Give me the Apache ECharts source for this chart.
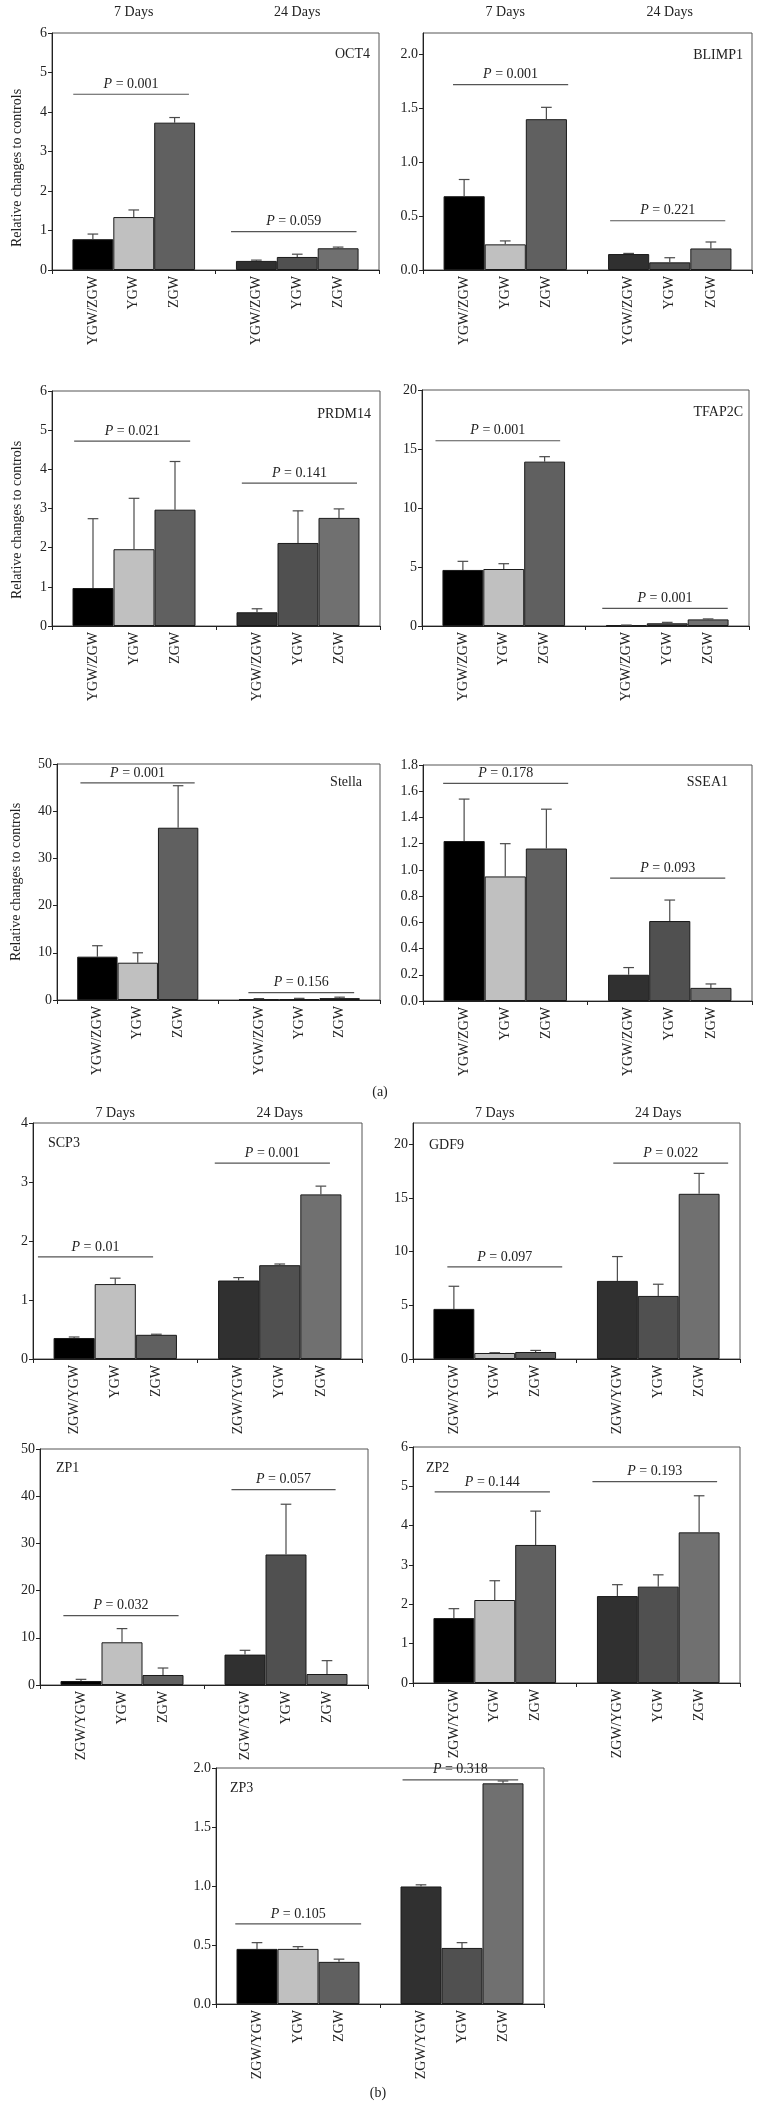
<!DOCTYPE html>
<html><head><meta charset="utf-8">
<script src="https://cdn.jsdelivr.net/npm/echarts@6/dist/echarts.min.js"></script>
<style>html,body{margin:0;padding:0;background:#fff}#c{width:760px;height:2108px}</style>
</head><body><div id="c"></div>
<script>
// ---------- DATA ----------
const dayLabels = ['7 Days', '24 Days'];
const groupsA = ['YGW/ZGW', 'YGW', 'ZGW'];
const groupsB = ['ZGW/YGW', 'YGW', 'ZGW'];
const yName = 'Relative changes to controls';

// order: 7 Days [g0,g1,g2], 24 Days [g0,g1,g2]
const oct4Mean   = [0.78, 1.34, 3.73, 0.23, 0.33, 0.55];
const oct4Sd     = [0.13, 0.18, 0.13, 0.02, 0.07, 0.03];
const blimp1Mean = [0.685, 0.238, 1.40, 0.148, 0.071, 0.20];
const blimp1Sd   = [0.155, 0.032, 0.11, 0.006, 0.043, 0.06];
const prdm14Mean = [0.97, 1.96, 2.97, 0.35, 2.12, 2.76];
const prdm14Sd   = [1.77, 1.30, 1.23, 0.09, 0.82, 0.23];
const tfap2cMean = [4.75, 4.83, 13.93, 0.06, 0.23, 0.56];
const tfap2cSd   = [0.73, 0.45, 0.42, 0.02, 0.08, 0.04];
const stellaMean = [9.18, 7.9, 36.5, 0.15, 0.2, 0.4];
const stellaSd   = [2.32, 2.1, 8.9, 0.15, 0.15, 0.2];
const ssea1Mean  = [1.22, 0.95, 1.163, 0.20, 0.61, 0.10];
const ssea1Sd    = [0.32, 0.25, 0.30, 0.055, 0.16, 0.03];
const scp3Mean   = [0.356, 1.27, 0.41, 1.33, 1.59, 2.79];
const scp3Sd     = [0.017, 0.10, 0.01, 0.05, 0.02, 0.14];
const gdf9Mean   = [4.67, 0.56, 0.65, 7.28, 5.88, 15.4];
const gdf9Sd     = [2.11, 0.03, 0.15, 2.27, 1.09, 1.9];
const zp1Mean    = [0.85, 9.05, 2.12, 6.44, 27.65, 2.33];
const zp1Sd      = [0.35, 2.9, 1.48, 0.91, 10.65, 2.83];
const zp2Mean    = [1.65, 2.11, 3.51, 2.21, 2.45, 3.83];
const zp2Sd      = [0.24, 0.49, 0.86, 0.29, 0.30, 0.93];
const zp3Mean    = [0.467, 0.467, 0.357, 0.996, 0.475, 1.87];
const zp3Sd      = [0.053, 0.019, 0.023, 0.014, 0.045, 0.02];

// P-value annotations: [p text, line y value, from slot, to slot]
const oct4P   = [['0.001', 4.45, 0.52, 3.35], ['0.059', 0.97, 4.38, 7.45]];
const blimp1P = [['0.001', 1.72, 0.73, 3.53], ['0.221', 0.457, 4.55, 7.35]];
const prdm14P = [['0.021', 4.72, 0.54, 3.37], ['0.141', 3.65, 4.63, 7.44]];
const tfap2cP = [['0.001', 15.7, 0.33, 3.38], ['0.001', 1.5, 4.41, 7.48]];
const stellaP = [['0.001', 46.0, 0.58, 3.41], ['0.156', 1.55, 4.74, 7.36]];
const ssea1P  = [['0.178', 1.66, 0.49, 3.53], ['0.093', 0.937, 4.55, 7.35]];
const scp3P   = [['0.01', 1.73, 0.12, 2.92], ['0.001', 3.32, 4.42, 7.22]];
const gdf9P   = [['0.097', 8.58, 0.84, 3.65], ['0.022', 18.26, 4.9, 7.71]];
const zp1P    = [['0.032', 14.7, 0.57, 3.38], ['0.057', 41.4, 4.67, 7.21]];
const zp2P    = [['0.144', 4.86, 0.53, 3.35], ['0.193', 5.12, 4.39, 7.44]];
const zp3P    = [['0.105', 0.679, 0.47, 3.54], ['0.318', 1.90, 4.55, 7.37]];

// ---------- STYLE / LAYOUT ----------
const FONT = '"Liberation Serif", "DejaVu Serif", serif';
const TXT = '#222';
const colors7 = ['#000000', '#c0c0c0', '#606060'];
const colors24 = ['#303030', '#505050', '#707070'];
const slots = [1, 2, 3, 5, 6, 7];

const panels = [
  {gene:'OCT4',   mean:oct4Mean,   sd:oct4Sd,   p:oct4P,   cats:groupsA, box:[52,33,379,270],   ymax:6,   yint:1,   dec:0, lab:[370,54,'right'],  yname:[17,168],  days:14},
  {gene:'BLIMP1', mean:blimp1Mean, sd:blimp1Sd, p:blimp1P, cats:groupsA, box:[423,33,752,270],  ymax:2.2, yint:0.5, dec:1, lab:[743,55,'right'],  yname:null, days:14},
  {gene:'PRDM14', mean:prdm14Mean, sd:prdm14Sd, p:prdm14P, cats:groupsA, box:[52,391,380,626],  ymax:6,   yint:1,   dec:0, lab:[371,414,'right'], yname:[17,520],  days:null},
  {gene:'TFAP2C', mean:tfap2cMean, sd:tfap2cSd, p:tfap2cP, cats:groupsA, box:[422,390,749,626], ymax:20,  yint:5,   dec:0, lab:[743,412,'right'], yname:null, days:null},
  {gene:'Stella', mean:stellaMean, sd:stellaSd, p:stellaP, cats:groupsA, box:[57,764,380,1000], ymax:50,  yint:10,  dec:0, lab:[362,782,'right'], yname:[16,882],  days:null},
  {gene:'SSEA1',  mean:ssea1Mean,  sd:ssea1Sd,  p:ssea1P,  cats:groupsA, box:[423,765,752,1001],ymax:1.8, yint:0.2, dec:1, lab:[728,782,'right'], yname:null, days:null},
  {gene:'SCP3',   mean:scp3Mean,   sd:scp3Sd,   p:scp3P,   cats:groupsB, box:[33,1123,362,1359],ymax:4,   yint:1,   dec:0, lab:[48,1143,'left'],  yname:null, days:3},
  {gene:'GDF9',   mean:gdf9Mean,   sd:gdf9Sd,   p:gdf9P,   cats:groupsB, box:[413,1123,740,1359],ymax:22, yint:5,   dec:0, lab:[429,1145,'left'], yname:null, days:3},
  {gene:'ZP1',    mean:zp1Mean,    sd:zp1Sd,    p:zp1P,    cats:groupsB, box:[40,1449,368,1685],ymax:50,  yint:10,  dec:0, lab:[56,1468,'left'],  yname:null, days:null},
  {gene:'ZP2',    mean:zp2Mean,    sd:zp2Sd,    p:zp2P,    cats:groupsB, box:[413,1447,740,1683],ymax:6,  yint:1,   dec:0, lab:[426,1468,'left'], yname:null, days:null},
  {gene:'ZP3',    mean:zp3Mean,    sd:zp3Sd,    p:zp3P,    cats:groupsB, box:[216,1768,544,2004],ymax:2.0,yint:0.5, dec:1, lab:[230,1788,'left'], yname:null, days:null}
];

const grid = [], xAxis = [], yAxis = [], series = [], graphic = [];

panels.forEach((P, gi) => {
  const [x0, y0, x1, y1] = P.box;
  grid.push({left:x0, top:y0, width:x1-x0, height:y1-y0, show:true, borderColor:'#555', borderWidth:1, containLabel:false});
  const cats9 = ['', P.cats[0], P.cats[1], P.cats[2], '', P.cats[0], P.cats[1], P.cats[2], ''];
  const xi = xAxis.length;
  xAxis.push({
    type:'category', gridIndex:gi, data:cats9, boundaryGap:false,
    axisLine:{show:true, lineStyle:{color:'#222', width:1}},
    axisTick:{show:true, interval:(idx)=> idx % 4 === 0, length:4, lineStyle:{color:'#222'}},
    axisLabel:{interval:0, rotate:90, margin:6, fontFamily:FONT, fontSize:14, color:TXT},
    splitLine:{show:false}
  });
  if (P.days !== null) {
    xAxis.push({
      type:'category', gridIndex:gi, position:'top', data:dayLabels,
      axisLine:{show:false}, axisTick:{show:false}, splitLine:{show:false},
      axisLabel:{margin:P.days, fontFamily:FONT, fontSize:14, color:TXT}
    });
  }
  const yint = P.yint, dec = P.dec;
  yAxis.push({
    type:'value', gridIndex:gi, min:0, max:P.ymax, interval:yint,
    axisLine:{show:true, lineStyle:{color:'#222', width:1}},
    axisTick:{show:true, length:4, lineStyle:{color:'#222'}},
    splitLine:{show:false},
    axisLabel:{margin:5, fontFamily:FONT, fontSize:14, color:TXT, showMaxLabel: Math.abs(P.ymax/yint - Math.round(P.ymax/yint)) < 1e-6,
      formatter:(v)=> Math.abs(v/yint - Math.round(v/yint)) < 1e-6 ? v.toFixed(dec) : ''}
  });

  const barData = cats9.map(() => '-');
  const errData = [];
  P.mean.forEach((m, k) => {
    const s = slots[k];
    barData[s] = {value:m, itemStyle:{color: k < 3 ? colors7[k] : colors24[k-3]}};
    errData.push([s, m, P.sd[k]]);
  });
  series.push({
    type:'bar', xAxisIndex:xi, yAxisIndex:gi, barWidth:'100%', data:barData,
    itemStyle:{borderColor:'#1a1a1a', borderWidth:1}, silent:true
  });
  series.push({
    type:'custom', xAxisIndex:xi, yAxisIndex:gi, data:errData, silent:true, z:3,
    encode:{x:0, y:1},
    renderItem:(params, api) => {
      const x = api.value(0), m = api.value(1), s = api.value(2);
      const b = api.coord([x, m]), t = api.coord([x, m + s]);
      const hw = api.size([1, 0])[0] * 0.13;
      const st = {stroke:'#4a4a4a', lineWidth:1.2};
      return {type:'group', children:[
        {type:'line', shape:{x1:b[0], y1:b[1], x2:t[0], y2:t[1]}, style:st},
        {type:'line', shape:{x1:t[0]-hw, y1:t[1], x2:t[0]+hw, y2:t[1]}, style:st}
      ]};
    }
  });
  const pTexts = P.p.map(r => r[0]);
  series.push({
    type:'custom', xAxisIndex:xi, yAxisIndex:gi, silent:true, z:4,
    data:P.p.map(r => [r[2], r[3], r[1]]),
    encode:{x:[0,1], y:2},
    renderItem:(params, api) => {
      const a = api.value(0), bb = api.value(1), y = api.value(2);
      const p0 = api.coord([0, y]), p1 = api.coord([1, y]);
      const step = p1[0] - p0[0];
      const xa = p0[0] + step * a, xb = p0[0] + step * bb, yy = p0[1];
      return {type:'group', children:[
        {type:'line', shape:{x1:xa, y1:yy, x2:xb, y2:yy}, style:{stroke:'#555', lineWidth:1.2}},
        {type:'text', x:(xa+xb)/2, y:yy-3, style:{
          text:'{i|P} = ' + pTexts[params.dataIndex],
          rich:{i:{fontStyle:'italic', fontFamily:FONT, fontSize:14, fill:TXT}},
          fontFamily:FONT, fontSize:14, fill:TXT, align:'center', verticalAlign:'bottom'}}
      ]};
    }
  });

  graphic.push({type:'text', x:P.lab[0], y:P.lab[1], silent:true,
    style:{text:P.gene, fontFamily:FONT, fontSize:14, fill:TXT, align:P.lab[2], verticalAlign:'middle'}});
  if (P.yname) {
    graphic.push({type:'text', x:P.yname[0], y:P.yname[1], rotation:Math.PI/2, silent:true,
      style:{text:yName, fontFamily:FONT, fontSize:14, fill:TXT, align:'center', verticalAlign:'middle'}});
  }
});

graphic.push({type:'text', x:380, y:1092, style:{text:'(a)', fontFamily:FONT, fontSize:14, fill:TXT, align:'center', verticalAlign:'middle'}});
graphic.push({type:'text', x:378, y:2093, style:{text:'(b)', fontFamily:FONT, fontSize:14, fill:TXT, align:'center', verticalAlign:'middle'}});

const chart = echarts.init(document.getElementById('c'), null, {renderer:'canvas'});
chart.setOption({animation:false, backgroundColor:'#fff', grid, xAxis, yAxis, series, graphic});
</script></body></html>
